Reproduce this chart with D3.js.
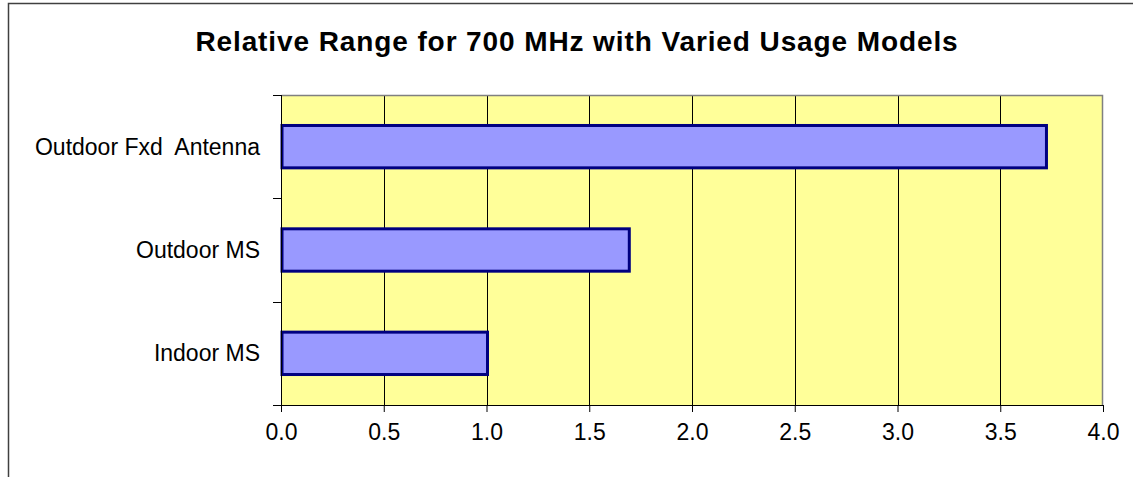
<!DOCTYPE html>
<html>
<head>
<meta charset="utf-8">
<script src="https://cdn.jsdelivr.net/npm/d3@7"></script>
<style>
  html, body { margin: 0; padding: 0; background: #fff; overflow: hidden; }
  svg { display: block; font-family: Arial, "Liberation Sans", sans-serif; }
</style>
</head>
<body>
<div id="chart"></div>
<script>
const categories = ['Outdoor Fxd  Antenna', 'Outdoor MS', 'Indoor MS'];
const values = [3.72, 1.69, 1.0];
const xTicks = [0, 0.5, 1.0, 1.5, 2.0, 2.5, 3.0, 3.5, 4.0];
const title = 'Relative Range for 700 MHz with Varied Usage Models';

const width = 1133;
const height = 477;

const svg = d3.select('#chart')
  .append('svg')
    .attr('width', width)
    .attr('height', height);

// outer chart frame: only the left and top edges are inside the picture
svg.append('path')
  .attr('d', `M8.5,${height}V3.5H${width}`)
  .attr('fill', 'none')
  .attr('stroke', '#404040')
  .attr('stroke-width', 1.5);

svg.append('text')
  .attr('x', 577)
  .attr('y', 51)
  .attr('text-anchor', 'middle')
  .style('font-size', '28px')
  .style('font-weight', 'bold')
  .style('letter-spacing', '0.9px')
  .text(title);

const plot = { left: 281, top: 95, right: 1103, bottom: 405 };
const plotWidth = plot.right - plot.left;
const plotHeight = plot.bottom - plot.top;

const g = svg.append('g')
  .attr('transform', `translate(${plot.left},${plot.top})`);

const xScale = d3.scaleLinear()
  .domain([0, 4])
  .range([0, plotWidth]);

const yScale = d3.scaleBand()
  .domain(categories)
  .range([0, plotHeight])
  .paddingInner(0.59)
  .paddingOuter(0.295);

// background
g.append('rect')
  .attr('width', plotWidth)
  .attr('height', plotHeight)
  .attr('fill', '#FFFF99');

// vertical gridlines
g.append('g')
  .selectAll('line')
  .data(xTicks.slice(1, -1))
  .join('line')
    .attr('x1', d => Math.round(xScale(d)) + 0.5)
    .attr('x2', d => Math.round(xScale(d)) + 0.5)
    .attr('y1', 0)
    .attr('y2', plotHeight)
    .attr('stroke', '#000')
    .attr('stroke-width', 1);

// plot border top/right
g.append('path')
  .attr('d', `M0.5,0.5H${plotWidth - 0.5}V${plotHeight}`)
  .attr('fill', 'none')
  .attr('stroke', '#808080')
  .attr('stroke-width', 1.5);

// bars
g.append('g')
  .selectAll('rect')
  .data(values)
  .join('rect')
    .attr('x', xScale(0) + 1)
    .attr('y', (d, i) => yScale(categories[i]))
    .attr('width', d => xScale(d) - xScale(0))
    .attr('height', yScale.bandwidth())
    .attr('fill', '#9999FF')
    .attr('stroke', '#000080')
    .attr('stroke-width', 3);

// x axis
const xAxis = d3.axisBottom(xScale)
  .tickValues(xTicks)
  .tickSize(7)
  .tickSizeOuter(0)
  .tickPadding(12)
  .tickFormat(d3.format('.1f'));

const xAxisGroup = g.append('g')
  .attr('transform', `translate(0,${plotHeight})`)
  .call(xAxis);
xAxisGroup.selectAll('text')
  .style('font-size', '23px')
  .attr('fill', '#000');
xAxisGroup.selectAll('line, path').attr('stroke', '#000');

// y axis: ticks at category boundaries
const boundaries = d3.range(categories.length + 1).map(i => i * plotHeight / categories.length);
g.append('line')
  .attr('x1', 0.5).attr('x2', 0.5)
  .attr('y1', 0).attr('y2', plotHeight)
  .attr('stroke', '#000');
g.append('g')
  .selectAll('line')
  .data(boundaries)
  .join('line')
    .attr('x1', -8)
    .attr('x2', 0)
    .attr('y1', d => Math.round(d) + 0.5)
    .attr('y2', d => Math.round(d) + 0.5)
    .attr('stroke', '#000');

g.append('g')
  .selectAll('text')
  .data(categories)
  .join('text')
    .attr('x', -21)
    .attr('y', d => yScale(d) + yScale.bandwidth() / 2)
    .attr('dy', '0.35em')
    .attr('text-anchor', 'end')
    .style('font-size', '23px')
    .style('white-space', 'pre')
    .text(d => d);
</script>
</body>
</html>
